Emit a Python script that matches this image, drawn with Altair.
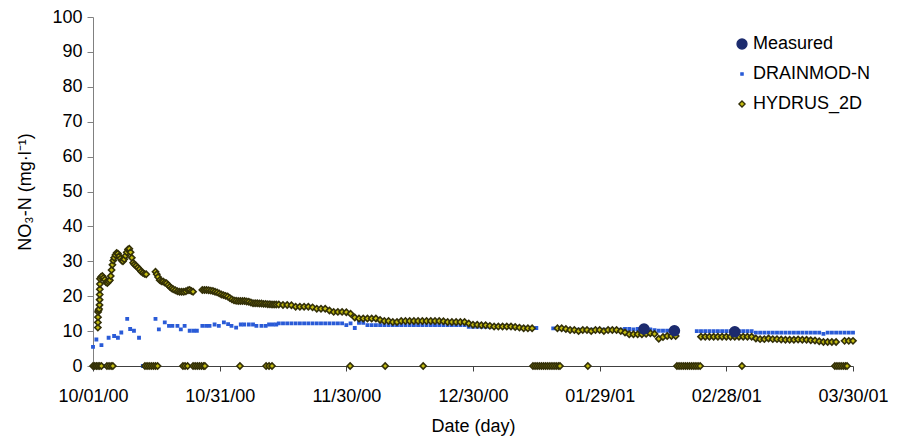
import json
import altair as alt
import pandas as pd

series_names = ["Measured", "DRAINMOD-N", "HYDRUS_2D"]

# x axis: days since 10/01/00
x_tick_days = [0, 30, 60, 90, 120, 150, 180]
x_tick_labels = ["10/01/00", "10/31/00", "11/30/00", "12/30/00", "01/29/01", "02/28/01", "03/30/01"]
y_ticks = [0, 10, 20, 30, 40, 50, 60, 70, 80, 90, 100]

# Measured
measured_day = [130.5, 137.7, 152.0]
measured_val = [10.6, 10.1, 9.8]

# DRAINMOD-N (irregular early part)
drain_early_day = [0, 0.8, 2.0, 2.9, 3.7, 5.0, 5.9, 6.7, 8.1, 8.8,
                   9.7, 10.9, 11.8, 14.8, 15.6, 17.0, 18.0, 18.8, 20.0, 20.8,
                   21.7, 22.9, 23.8, 24.6, 25.9, 26.8, 27.6, 28.8, 29.8, 31.0,
                   32.0, 32.8, 33.9, 35.0, 35.8, 36.9, 37.9, 38.7, 39.9, 40.9,
                   41.7, 42.6, 43.4]
drain_early_val = [5.5, 7.6, 6.0, 0, 8.1, 8.6, 8.1, 9.6, 13.5, 10.6,
                   10.1, 8.1, 0, 13.5, 10.5, 12.5, 11.5, 11.5, 11.5, 10.5,
                   11.5, 10.1, 10.1, 10.1, 11.5, 11.5, 11.5, 11.9, 11.5, 12.5,
                   12.0, 11.5, 11.0, 11.9, 11.9, 11.9, 11.9, 11.5, 11.5, 11.5,
                   11.9, 11.9, 11.9]

# DRAINMOD-N daily runs: (first day, daily values)
drain_runs = [
    (44, [12.2, 12.2, 12.2, 12.2, 12.2, 12.2, 12.2, 12.2, 12.2, 12.2, 12.2, 12.2, 12.2, 12.2, 12.2, 12.2,
          11.7, 12.2, 10.9, 12.4, 12.4,
          11.7, 11.7, 11.7, 11.7, 11.7, 11.7, 11.7, 11.7, 11.7, 11.7, 11.7, 11.7,
          11.7, 11.7, 11.7, 11.7, 11.7, 11.7, 11.7, 11.7, 11.7, 11.7, 11.7, 11.7,
          11.2, 11.2, 11.2, 11.2, 11.2, 11.2,
          11.4, 11.4, 11.4, 11.4, 11.4,
          11.1, 11.0, 11.0, 10.9, 10.9, 10.9]),
    (109, [10.8, 10.8, 10.6, 10.4, 10.4, 10.3, 10.4, 10.4, 10.3, 10.4, 10.4, 10.3, 10.4, 10.4, 10.4, 10.3, 10.4,
           10.6, 10.6, 10.5, 10.6, 10.4, 10.2, 10.5, 10.3, 10.1, 10.1, 10.1, 10.1]),
    (143, [10.0, 10.0, 10.0, 10.0, 10.0, 10.0, 10.0, 10.0, 10.0, 10.0, 10.0, 10.0, 10.0, 10.0,
           9.55, 9.55, 9.55, 9.55, 9.55, 9.55, 9.55, 9.55, 9.55, 9.55, 9.55, 9.55, 9.55, 9.55, 9.55, 9.55,
           9.2, 9.55, 9.55, 9.55, 9.55, 9.55, 9.55, 9.55]),
]

# HYDRUS_2D (sub-daily early part)
hydrus_early_day = [1.15, 1.17, 1.19, 1.21, 1.3, 1.45, 1.55, 1.57, 1.59, 1.61, 1.63, 1.65, 1.9, 2.2, 2.5, 2.8,
                    3.1, 3.4, 3.7, 4.0, 4.2, 4.4, 4.6, 4.8, 5.0, 5.3, 5.6, 5.9, 6.2, 6.5, 6.8, 7.1, 7.4, 7.7,
                    8.0, 8.3, 8.6, 8.9, 9.2, 9.5, 9.8, 10.2, 10.6, 11.0, 11.4, 11.8, 12.2, 12.6,
                    14.8, 15.1, 15.4, 15.8, 16.2, 16.6, 17.0, 17.4, 17.8, 18.2, 18.6, 19.0, 19.5, 20.0,
                    20.5, 21.0, 21.5, 22.0, 22.5, 22.9, 23.3, 23.7,
                    25.9, 26.4, 26.9, 27.4, 27.9, 28.4, 28.9, 29.4, 29.9, 30.4, 30.9, 31.4, 31.9, 32.4,
                    32.9, 33.4, 33.9, 34.4, 34.9, 35.4, 35.9, 36.4, 36.9, 37.4, 37.9, 38.4, 38.9, 39.4,
                    39.9, 40.4, 40.9, 41.4, 41.9, 42.4, 42.9, 43.4]
hydrus_early_val = [11.0, 12.5, 14.0, 15.5, 16.0, 16.3, 17.5, 19.0, 20.5, 22.0, 23.5, 25.0, 25.5, 25.8, 25.3, 24.8,
                    24.0, 23.8, 24.2, 24.6, 25.8, 27.5, 29.0, 30.2, 31.0, 31.8, 32.4, 32.2, 31.5, 30.8, 30.2, 30.0, 30.6, 31.6,
                    32.6, 33.4, 33.6, 32.6, 31.0, 29.6, 29.1, 28.7, 28.2, 27.7, 27.1, 26.7, 26.4, 26.3,
                    27.0, 26.3, 25.5, 24.6, 24.3, 24.2, 23.9, 23.7, 23.2, 22.7, 22.3, 22.0, 21.7, 21.4,
                    21.3, 21.3, 21.3, 21.4, 21.7, 21.8, 21.5, 21.3,
                    21.8, 21.8, 21.8, 21.7, 21.6, 21.5, 21.3, 21.1, 20.8, 20.5, 20.3, 20.1, 19.9, 19.5,
                    19.1, 18.8, 18.7, 18.6, 18.6, 18.6, 18.6, 18.5, 18.4, 18.2, 18.0, 18.0, 18.0, 17.9,
                    17.9, 17.8, 17.8, 17.7, 17.7, 17.6, 17.6, 17.6]

# HYDRUS_2D daily runs
hydrus_runs = [
    (44, [17.6, 17.5, 17.5, 17.4, 17.0, 17.0, 17.0, 17.0, 16.8, 16.4, 16.4, 16.4, 15.9, 15.5, 15.5, 15.5,
          15.4, 15.0, 13.9, 13.6, 13.6, 13.6, 13.6, 13.6, 13.2, 12.9, 12.9, 12.6, 12.6, 12.9,
          12.9, 12.9, 12.9, 12.9, 12.9, 12.9, 12.9, 12.9, 12.9, 12.8,
          12.6, 12.6, 12.6, 12.6, 12.6, 12.2, 11.8, 11.8, 11.7, 11.7, 11.5,
          11.3, 11.3, 11.3, 11.3, 11.3, 11.2, 11.0, 10.8, 10.8, 10.8]),
    (110, [10.8, 10.8, 10.6, 10.3, 10.3, 10.0, 10.3, 10.3, 10.0, 10.3, 10.3, 10.0, 10.3, 10.3, 10.3, 10.0,
           9.6, 9.1, 9.1, 9.1, 9.1, 9.2, 9.4, 9.2, 7.8, 8.3, 8.6, 8.6, 8.6]),
    (144, [8.4, 8.4, 8.4, 8.4, 8.4, 8.4, 8.4, 8.4, 8.4, 8.4, 8.4, 8.4, 8.4,
           7.9, 7.7, 7.7, 7.9, 7.7, 7.7, 7.6, 7.5, 7.5, 7.5, 7.6, 7.5, 7.5, 7.4, 7.3, 7.1,
           6.9, 6.9, 6.9, 6.9]),
    (178, [7.2, 7.2, 7.2]),
]

# HYDRUS_2D outputs that drop to zero
hydrus_zero_day = [0, 0.4, 0.8, 1.2, 1.6, 2.0, 3.3, 3.8, 4.3, 4.7, 12.3, 12.8, 13.3, 13.8, 14.3, 14.8, 15.3,
                   21.3, 21.8, 22.4, 23.7, 24.2, 24.7, 25.2, 25.7, 26.2, 26.5, 34.8, 41.0, 41.7, 42.4,
                   60.9, 69.2, 78.2, 104.2, 104.7, 105.2, 105.7, 106.2, 106.7, 107.2, 107.7, 108.2,
                   108.7, 109.2, 109.7, 110.2, 110.6, 117.2, 138.3, 138.8, 139.3, 139.8, 140.3, 140.8,
                   141.3, 141.8, 142.3, 142.8, 143.3, 143.8, 153.7, 175.7, 176.2, 176.7, 177.2, 177.7,
                   178.2, 178.6]

fill_range = ["#1c2b6e", "#2a5bd7", "#c4bc10"]
stroke_range = ["#1c2b6e", "#2a5bd7", "#333008"]
shape_range = ["circle", "square", "diamond"]
size_range = [100, 5, 38]

rows = []
for d, v in zip(drain_early_day, drain_early_val):
    rows.append({"day": d, "value": v, "series": "DRAINMOD-N"})
for start, vals in drain_runs:
    for i, v in enumerate(vals):
        rows.append({"day": start + i, "value": v, "series": "DRAINMOD-N"})
for d in hydrus_zero_day:
    rows.append({"day": d, "value": 0.0, "series": "HYDRUS_2D"})
for d, v in zip(hydrus_early_day, hydrus_early_val):
    rows.append({"day": d, "value": v, "series": "HYDRUS_2D"})
for start, vals in hydrus_runs:
    for i, v in enumerate(vals):
        rows.append({"day": start + i, "value": v, "series": "HYDRUS_2D"})
for d, v in zip(measured_day, measured_val):
    rows.append({"day": d, "value": v, "series": "Measured"})
df = pd.DataFrame(rows)

FONT = "Liberation Sans"
label_map = {str(d): l for d, l in zip(x_tick_days, x_tick_labels)}
label_expr = json.dumps(label_map) + "[toString(datum.value)]"

leg = alt.Legend(
    orient="none", legendX=640, legendY=18, title=None,
    labelFont=FONT, labelFontSize=18, labelColor="#000000",
    labelOffset=2, rowPadding=12, padding=0, symbolStrokeWidth=1.3,
)

chart = alt.Chart(df).mark_point(filled=True, opacity=1, strokeWidth=1.6).encode(
    x=alt.X("day:Q", scale=alt.Scale(domain=[0, 180], nice=False, zero=False),
            axis=alt.Axis(values=x_tick_days, labelExpr=label_expr, title="Date (day)",
                          grid=False, domainColor="#404040", tickColor="#404040",
                          tickSize=5, labelPadding=16, labelFont=FONT, labelFontSize=18,
                          labelColor="#000000", titleFont=FONT, titleFontSize=18,
                          titleFontWeight="normal", titleColor="#000000", titlePadding=12,
                          labelFlush=False, labelOverlap=False)),
    y=alt.Y("value:Q", scale=alt.Scale(domain=[0, 100], nice=False),
            axis=alt.Axis(values=y_ticks, title="NO₃-N (mg·l⁻¹)", grid=False,
                          domainColor="#808080", tickColor="#808080", tickSize=6,
                          labelPadding=5, labelFont=FONT, labelFontSize=18, labelColor="#000000",
                          titleFont=FONT, titleFontSize=18, titleFontWeight="normal",
                          titleColor="#000000", titlePadding=17)),
    fill=alt.Fill("series:N", sort=series_names,
                  scale=alt.Scale(domain=series_names, range=fill_range), legend=leg),
    stroke=alt.Stroke("series:N", sort=series_names,
                      scale=alt.Scale(domain=series_names, range=stroke_range), legend=leg),
    shape=alt.Shape("series:N", sort=series_names,
                    scale=alt.Scale(domain=series_names, range=shape_range), legend=leg),
    size=alt.Size("series:N", sort=series_names,
                  scale=alt.Scale(type="ordinal", domain=series_names, range=size_range), legend=leg),
).properties(
    width=760, height=349,
    autosize=alt.AutoSizeParams(type="none"),
    padding={"left": 85, "top": 9, "right": 38, "bottom": 74},
    background="white",
).configure_view(stroke=None)

chart.save("out.html", embed_options={"renderer": "svg", "actions": False})
